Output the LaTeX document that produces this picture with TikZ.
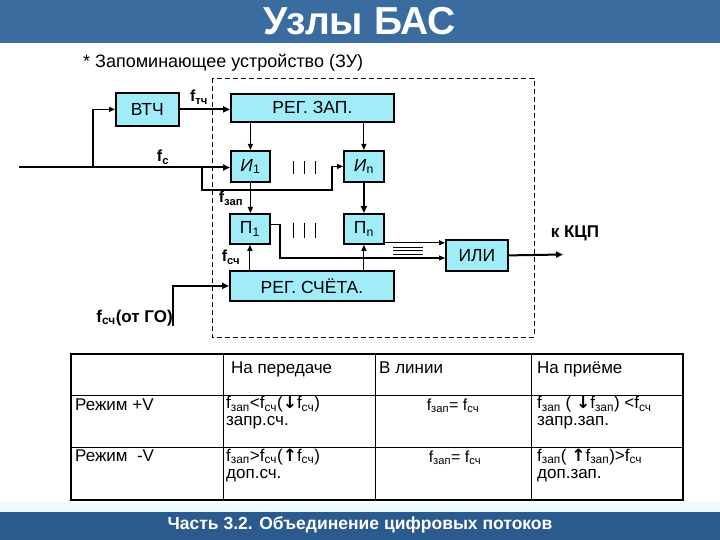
\documentclass[tikz,border=0pt]{standalone}
\usepackage{fontspec}
\setmainfont{Liberation Sans}
\newfontfamily\arrowfont{DejaVu Sans}
\usetikzlibrary{arrows.meta}
\definecolor{topbar}{RGB}{58,108,160}
\definecolor{botbar}{RGB}{42,90,142}
\definecolor{boxfill}{RGB}{160,236,248}
\definecolor{lightband}{RGB}{236,250,252}
\newcommand\sub[1]{\textsubscript{#1}}
\newcommand\dnarr{{\arrowfont\bfseries ↓}}
\newcommand\uparr{{\arrowfont\bfseries ↑}}
\begin{document}
\begin{tikzpicture}[x=1pt,y=-1pt,
  box/.style={draw=black, line width=1.8pt, fill=boxfill, inner sep=0pt, anchor=north west, font=\fontsize{17.5}{20}\selectfont},
  conn/.style={line width=1.1pt, -{Triangle[length=6pt,width=5pt]}},
  thickconn/.style={line width=2pt, -{Triangle[length=7pt,width=6pt]}},
  lbl/.style={font=\fontsize{16}{18}\selectfont\bfseries, inner sep=0pt},
  cell/.style={font=\fontsize{17}{17}\selectfont, inner sep=0pt, anchor=west, align=left},
  scell/.style={cell, text height=12.5pt, text depth=3.5pt},
  ccell/.style={font=\fontsize{16}{17}\selectfont, inner sep=0pt, text height=12pt, text depth=4pt},
  bar/.style={line width=1pt}]
\useasboundingbox (0,0) rectangle (720,540);
% banners
\fill[topbar] (0,0) rectangle (720,43);
\node[font=\fontsize{39}{40}\selectfont\bfseries, text=white, inner sep=0pt] (title) at (360,21) {Узлы БАС};
\fill[lightband] (0,503) rectangle (720,512);
\fill[botbar] (0,512) rectangle (720,540);
\node[font=\fontsize{17.5}{18}\selectfont\bfseries, text=white, inner sep=0pt] (foot) at (360,525) {Часть 3.2. Объединение цифровых потоков};
% subtitle
\node[font=\fontsize{18}{20}\selectfont, anchor=west, inner sep=0pt] (sub) at (83,63) {* Запоминающее устройство (ЗУ)};
% dashed frame
\draw[dash pattern=on 5pt off 3pt, line width=0.9pt] (212,78) rectangle (534,337);
% boxes
\node[box, minimum width=63pt, minimum height=33pt] (vtch) at (115,92) {ВТЧ};
\node[box, minimum width=163pt, minimum height=28pt] (regzap) at (230,93) {РЕГ. ЗАП.};
\node[box, minimum width=39pt, minimum height=31pt] (i1) at (230,150) {\textit{И}\sub{1}};
\node[box, minimum width=40pt, minimum height=31pt] (in) at (343,150) {\textit{И}\sub{n}};
\node[box, minimum width=40pt, minimum height=30pt] (p1) at (229,213) {П\sub{1}};
\node[box, minimum width=40pt, minimum height=30pt] (pn) at (343,213) {П\sub{n}};
\node[box, minimum width=62pt, minimum height=31pt] (ili) at (445,239) {ИЛИ};
\node[box, minimum width=164pt, minimum height=30pt] (regsch) at (229,270) {РЕГ. СЧЁТА.};
% labels
\node[lbl] (ftch) at (199,97) {f\sub{тч}};
\node[lbl] (fc) at (163,157) {f\sub{с}};
\node[lbl] (fzap) at (231,198) {f\sub{зап}};
\node[lbl] (fsch) at (231,257) {f\sub{сч}};
\node[font=\fontsize{17}{18}\selectfont\bfseries, inner sep=0pt] (kcp) at (575,233) {к КЦП};
\node[font=\fontsize{17}{18}\selectfont\bfseries, inner sep=0pt, anchor=south east] (go) at (173,326) {f\sub{сч}(от ГО)};
% connectors
\coordinate (inL) at (19,167.5);
\coordinate (b1) at (93,167.5);
\coordinate (b2) at (202,167.5);
\coordinate (b2d) at (332,190);
\coordinate (c1) at (280,258);
\coordinate (out) at (563,254.5);
\draw[thickconn] (inL) -- (inL -| i1.west);
\draw[conn] (b1) |- (vtch.west);
\draw[thickconn] (vtch.east) -- (vtch.east -| regzap.west);
\draw[conn] (b2) |- (b2d) |- (in.west);
\draw[conn] (i1.north |- regzap.south) -- (i1.north);
\draw[conn] (in.north |- regzap.south) -- (in.north);
\draw[conn] (i1.south) -- (i1.south |- p1.north);
\draw[thickconn] (in.south) -- (in.south |- pn.north);
\draw[conn] (p1.south |- regsch.north) -- (p1.south);
\draw[conn] (pn.south |- regsch.north) -- (pn.south);
\draw[conn] ([yshift=4pt]p1.east) -| (c1) -- (c1 -| ili.west);
\draw[conn] ([yshift=2pt]pn.south east) -- ([yshift=2pt]pn.south east -| ili.west);
\draw[thickconn] (ili.east) -- (out);
\draw[thickconn] (go.south east) |- (regsch.west);
% dots
\draw[bar] (293,161) -- (293,174) (304,161) -- (304,174) (315,161) -- (315,174);
\draw[bar] (293,223) -- (293,238) (304,223) -- (304,238) (315,223) -- (315,238);
\draw[bar] (393,247) -- (423,247) (393,250.5) -- (423,250.5) (393,254) -- (423,254);
% table
\draw[line width=1pt] (71,395) -- (683,395) (71,447) -- (683,447)
  (223,354) -- (223,500) (375,354) -- (375,500) (531,354) -- (531,500);
\draw[line width=1.8pt] (71,354) rectangle (683,500);
\node[scell] (h1) at (231,369) {На передаче};
\node[scell] (h2) at (379,369) {В линии};
\node[scell] (h3) at (537,369) {На приёме};
\node[scell] (r1) at (75,406) {Режим +V};
\node[scell] (r2) at (75,457) {Режим \ -V};
\node[cell] (c11) at (226,413) {{\fontsize{17}{17}\selectfont f\sub{зап}<f\sub{сч}(\dnarr f\sub{сч})}\\запр.сч.};
\node[ccell] (c12) at (453,406) {f\sub{зап}= f\sub{сч}};
\node[cell] (c13) at (537,413) {{\fontsize{17}{17}\selectfont f\sub{зап} ( \dnarr f\sub{зап}) <f\sub{сч}}\\запр.зап.};
\node[cell] (c21) at (226,465) {{\fontsize{17}{17}\selectfont f\sub{зап}>f\sub{сч}(\uparr f\sub{сч})}\\доп.сч.};
\node[ccell] (c22) at (455,458) {f\sub{зап}= f\sub{сч}};
\node[cell] (c23) at (537,465) {{\fontsize{17}{17}\selectfont f\sub{зап}( \uparr f\sub{зап})>f\sub{сч}}\\доп.зап.};
\end{tikzpicture}
\end{document}
